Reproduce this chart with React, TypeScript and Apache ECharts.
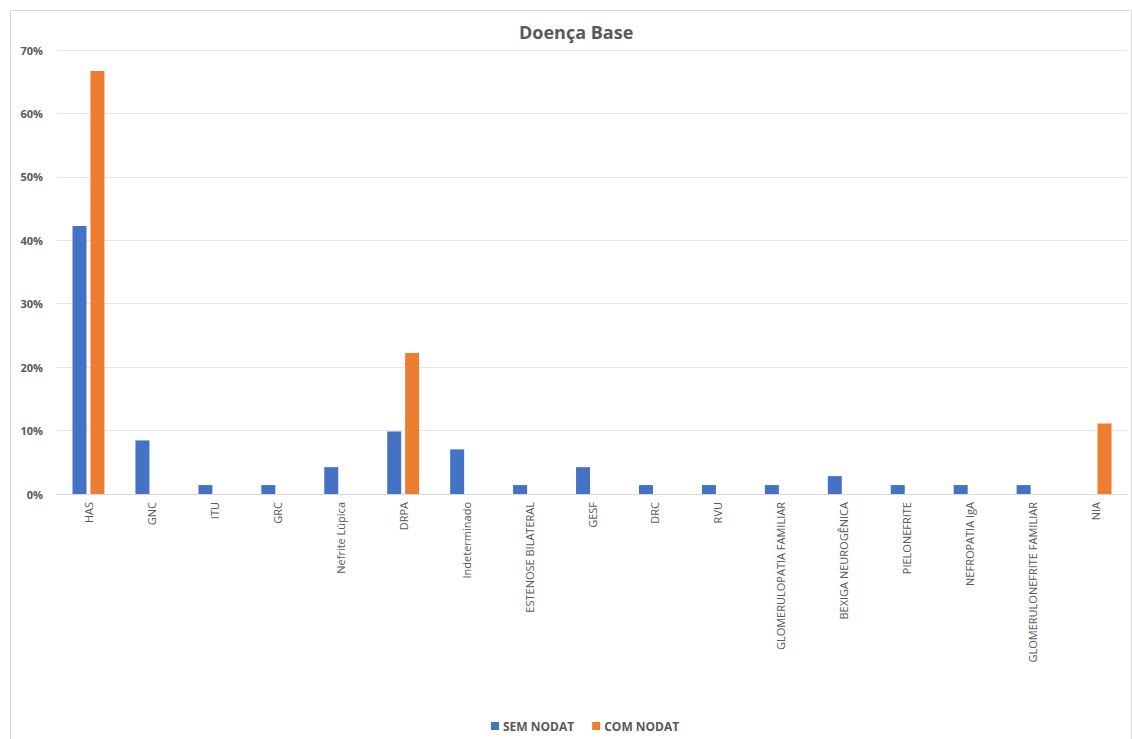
import React, { useEffect, useRef } from "react";
import * as echarts from "echarts";

const categories = [
  "HAS", "GNC", "ITU", "GRC", "Nefrite Lúpica", "DRPA", "Indeterminado",
  "ESTENOSE BILATERAL", "GESF", "DRC", "RVU", "GLOMERULOPATIA FAMILIAR",
  "BEXIGA NEUROGÊNICA", "PIELONEFRITE", "NEFROPATIA IgA",
  "GLOMERULONEFRITE FAMILIAR", "NIA",
];
const semNodat = [
  42.25, 8.45, 1.41, 1.41, 4.23, 9.86, 7.04, 1.41, 4.23, 1.41, 1.41, 1.41,
  2.82, 1.41, 1.41, 1.41, 0,
];
const comNodat = [
  66.67, 0, 0, 0, 0, 22.22, 0, 0, 0, 0, 0, 0, 0, 0, 0, 0, 11.11,
];
const yTicks = [0, 10, 20, 30, 40, 50, 60, 70];

const FONT = "'Open Sans', 'Liberation Sans', sans-serif";
const GRAY = "#595959";

export default function App() {
  const ref = useRef<HTMLDivElement>(null);
  useEffect(() => {
    document.body.style.margin = "0";
    const chart = echarts.init(ref.current!, undefined, { renderer: "svg" });
    chart.setOption({
      animation: false,
      backgroundColor: "#ffffff",
      textStyle: { fontFamily: FONT },
      title: {
        text: "Doença Base",
        left: 514,
        top: 18,
        textStyle: { fontFamily: FONT, fontSize: 18, fontWeight: "bold", color: GRAY },
      },
      graphic: [
        {
          type: "rect",
          shape: { x: 10.5, y: 10.5, width: 1121, height: 760 },
          style: { fill: "none", stroke: "#d9d9d9", lineWidth: 1 },
          silent: true,
        },
      ],
      legend: {
        bottom: 2,
        left: 486,
        itemWidth: 8,
        itemHeight: 8,
        itemGap: 18,
        icon: "rect",
        textStyle: { fontFamily: FONT, fontSize: 12, fontWeight: "bold", color: GRAY, padding: [0, 0, 0, -1] },
        data: ["SEM NODAT", "COM NODAT"],
      },
      grid: { left: 57, right: 5, top: 50, bottom: 245, containLabel: false },
      xAxis: {
        type: "category",
        data: categories,
        axisLine: { lineStyle: { color: "#d9d9d9" } },
        axisTick: { show: false },
        axisLabel: {
          interval: 0,
          rotate: 90,
          margin: 8,
          fontFamily: FONT,
          fontSize: 11,
          color: GRAY,
        },
      },
      yAxis: {
        type: "value",
        min: yTicks[0],
        max: yTicks[yTicks.length - 1],
        interval: 10,
        axisLine: { show: false },
        axisTick: { show: false },
        splitLine: { lineStyle: { color: "#e6e6e6" } },
        axisLabel: {
          formatter: (v: number) => `${v}%`,
          fontFamily: FONT,
          fontSize: 11,
          fontWeight: "bold",
          color: GRAY,
          margin: 14,
        },
      },
      series: [
        {
          name: "SEM NODAT",
          type: "bar",
          data: semNodat,
          barWidth: 14,
          barGap: "28%",
          itemStyle: { color: "#4472c4" },
        },
        {
          name: "COM NODAT",
          type: "bar",
          data: comNodat,
          barWidth: 14,
          itemStyle: { color: "#ed7d31" },
        },
      ],
    });
    return () => chart.dispose();
  }, []);
  return <div ref={ref} style={{ width: 1132, height: 739 }} />;
}
